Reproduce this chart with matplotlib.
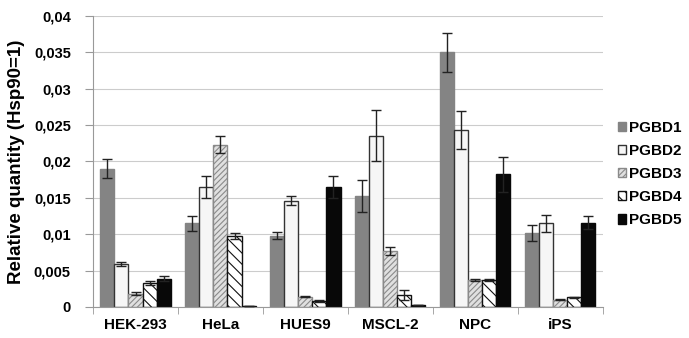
import numpy as np
import matplotlib
matplotlib.use("Agg")
from matplotlib import pyplot as plt
from matplotlib.ticker import FuncFormatter

plt.rcParams['font.family'] = ['Liberation Sans', 'DejaVu Sans']
plt.rcParams['hatch.linewidth'] = 0.8

cells = ["HEK-293", "HeLa", "HUES9", "MSCL-2", "NPC", "iPS"]
genes = ["PGBD1", "PGBD2", "PGBD3", "PGBD4", "PGBD5"]

pgbd1 = [0.0190, 0.0115, 0.0098, 0.0153, 0.0350, 0.0102]
pgbd2 = [0.0059, 0.0165, 0.0146, 0.0235, 0.0243, 0.0115]
pgbd3 = [0.0018, 0.0223, 0.0014, 0.0077, 0.0037, 0.0010]
pgbd4 = [0.0033, 0.0097, 0.0008, 0.0016, 0.0037, 0.0013]
pgbd5 = [0.0039, 0.0001, 0.0165, 0.0003, 0.0182, 0.0116]

err1 = [0.0013, 0.0010, 0.0005, 0.0022, 0.0027, 0.0011]
err2 = [0.0003, 0.0015, 0.0006, 0.0035, 0.0026, 0.0012]
err3 = [0.0002, 0.0012, 0.0001, 0.0005, 0.0002, 0.0001]
err4 = [0.0003, 0.0004, 0.0001, 0.0007, 0.0001, 0.0001]
err5 = [0.0003, 0.0000, 0.0015, 0.0000, 0.0024, 0.0009]

values = [pgbd1, pgbd2, pgbd3, pgbd4, pgbd5]
errors = [err1, err2, err3, err4, err5]

styles = [
    dict(color="#848484", edgecolor="#848484", hatch=None),
    dict(color="#f6f6f6", edgecolor="#333333", hatch=None),
    dict(color="#e0e0e0", edgecolor="#8a8a8a", hatch="//////"),
    dict(color="white", edgecolor="#111111", hatch="\\\\\\"),
    dict(color="#080808", edgecolor="#080808", hatch=None),
]

fig = plt.figure(figsize=(6.89, 3.38), dpi=100)
ax = fig.add_axes([0.135, 0.092, 0.74, 0.861])

x = np.arange(len(cells))
w = 0.165
for i in range(5):
    pos = x - 2 * w + i * w
    st = styles[i]
    ax.bar(pos, values[i], w, color=st["color"], edgecolor=st["edgecolor"],
           hatch=st["hatch"], linewidth=1.0, label=genes[i], zorder=2)
    ax.errorbar(pos, values[i], yerr=errors[i], fmt="none", ecolor="#222222",
                elinewidth=1.0, capsize=3.5, capthick=1.0, zorder=3)

ax.set_xlim(-0.5, len(cells) - 0.5)
ax.set_ylim(0, 0.04)
ax.set_yticks(np.arange(0, 0.0401, 0.005))
ax.yaxis.set_major_formatter(FuncFormatter(
    lambda v, p: "0" if v == 0 else ("%g" % round(v, 4)).replace(".", ",")))
ax.set_xticks(x)
ax.set_xticklabels(cells, fontweight="bold", fontsize=11)
ax.set_xticks(np.arange(-0.5, len(cells), 1), minor=True)
ax.tick_params(axis="x", which="major", length=0, pad=8)
ax.tick_params(axis="x", which="minor", length=5, color="#999999")
ax.tick_params(axis="y", length=6, color="#999999", labelsize=10.5, pad=10)
for lab in ax.get_yticklabels():
    lab.set_fontweight("bold")

ax.grid(axis="y", color="#cccccc", linewidth=0.8, zorder=0)
ax.set_axisbelow(True)
for s in ["top", "right"]:
    ax.spines[s].set_visible(False)
ax.spines["left"].set_color("#999999")
ax.spines["bottom"].set_color("#999999")

ax.set_ylabel("Relative quantity (Hsp90=1)", fontweight="bold", fontsize=13.5,
              labelpad=6)

handles, labels = ax.get_legend_handles_labels()
fig.legend(handles, labels, loc="center left",
           bbox_to_anchor=(618 / 689, 1 - 174 / 338), frameon=False,
           prop=dict(weight="bold", size=11), handlelength=0.55,
           handleheight=0.55, handletextpad=0.2, labelspacing=0.6,
           borderpad=0, borderaxespad=0)

plt.savefig("out.png", dpi=100)
